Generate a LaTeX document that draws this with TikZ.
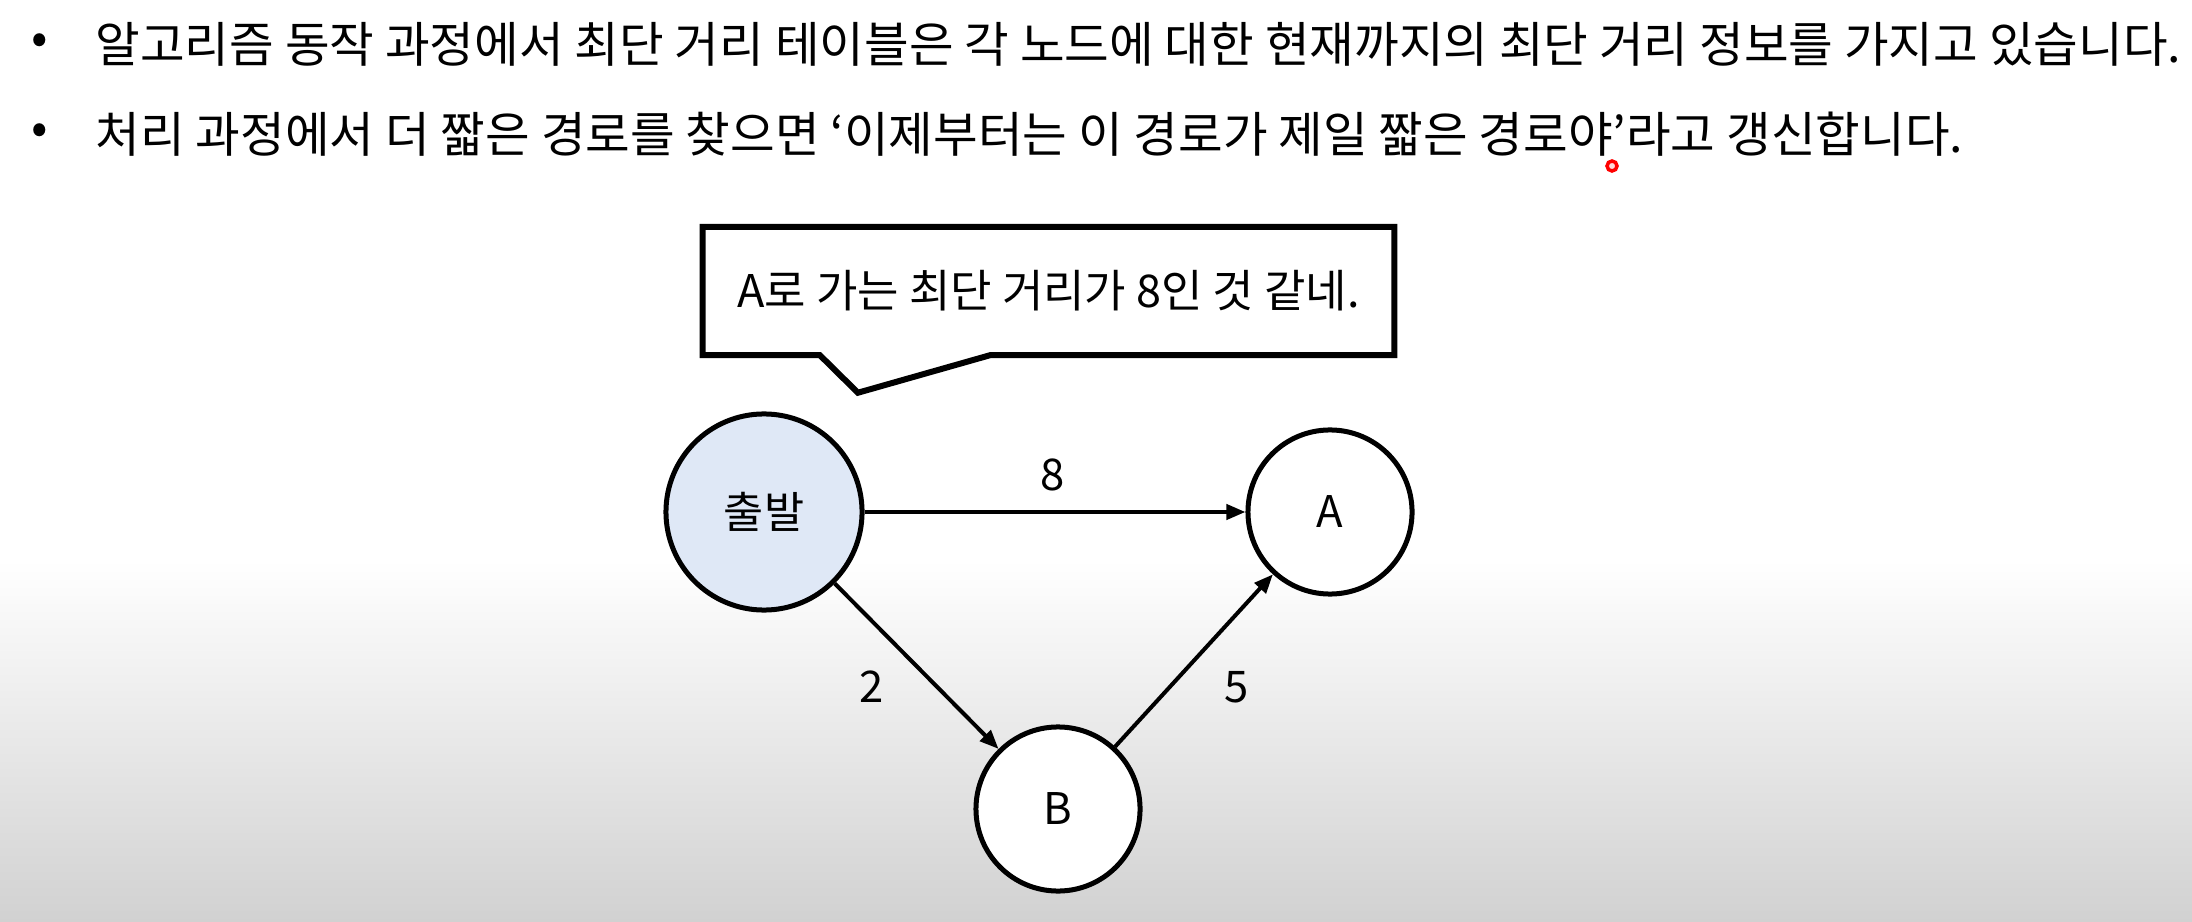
\documentclass[tikz,border=0pt]{standalone}
\usepackage{fontspec}
\setmainfont{Noto Sans CJK KR}
\usetikzlibrary{arrows.meta}

\definecolor{startblue}{HTML}{DFE8F6}

\begin{document}
\begin{tikzpicture}[x=0.01cm, y=-0.01cm,
      line/.style={font=\fontsize{13.8}{16}\selectfont, anchor=west, inner sep=0pt},
      dot/.style={font=\fontsize{13.8}{16}\selectfont, inner sep=0pt},
      vtx/.style={draw, circle, line width=0.5mm, font=\fontsize{12.4}{14}\selectfont},
      wt/.style={font=\fontsize{12.4}{14}\selectfont, inner sep=0pt},
      say/.style={minimum width=6.9cm, minimum height=1.27cm, inner sep=0pt,
                  font=\fontsize{12.8}{15}\selectfont},
      hop/.style={-{Triangle[length=1.9mm,width=1.5mm]}, line width=0.4mm}
    ]
    % Background
    \useasboundingbox (0,0) rectangle (2192,922);
    \fill[white] (0,0) rectangle (2192,922);
    \shade[top color=white, bottom color=black!18] (0,560) rectangle (2192,922);

    % Bullet lines
    \node[dot] (b1) at (40,44) {•};
    \node[line] (t1) at (95,44)
      {알고리즘 동작 과정에서 최단 거리 테이블은 각 노드에 대한 현재까지의 최단 거리 정보를 가지고 있습니다.};
    \node[dot] (b2) at (40,134) {•};
    \node[line] (t2) at (95,134)
      {처리 과정에서 더 짧은 경로를 찾으면 ‘이제부터는 이 경로가 제일 짧은 경로야’라고 갱신합니다.};

    % Speech bubble
    \node[say] (msg) at (1048.5,291) {A로 가는 최단 거리가 8인 것 같네.};
    \draw[line width=0.6mm, line join=miter] (msg.north west) -- (msg.north east)
      -- (msg.south east) -- ++(-404.5,0) -- ++(-132,37.5) -- ++(-38,-37.5)
      -- (msg.south west) -- cycle;

    % Graph
    \node[vtx, fill=startblue, minimum size=1.96cm] (start) at (764,512) {출발};
    \node[vtx, fill=white, minimum size=1.64cm] (A) at (1330,512) {A};
    \node[vtx, fill=white, minimum size=1.64cm] (B) at (1058,809) {B};

    \draw[hop] (start) -- (A);
    \draw[hop] (start) -- (B);
    \draw[hop] (B) -- (A);

    \node[wt] (w8) at (1053,475) {8};
    \node[wt] (w2) at (872,687) {2};
    \node[wt] (w5) at (1237,687) {5};

    % Pointer mark
    \draw[red, line width=0.35mm, fill=red!15] (1612,166) circle (5);
  \end{tikzpicture}
\end{document}
